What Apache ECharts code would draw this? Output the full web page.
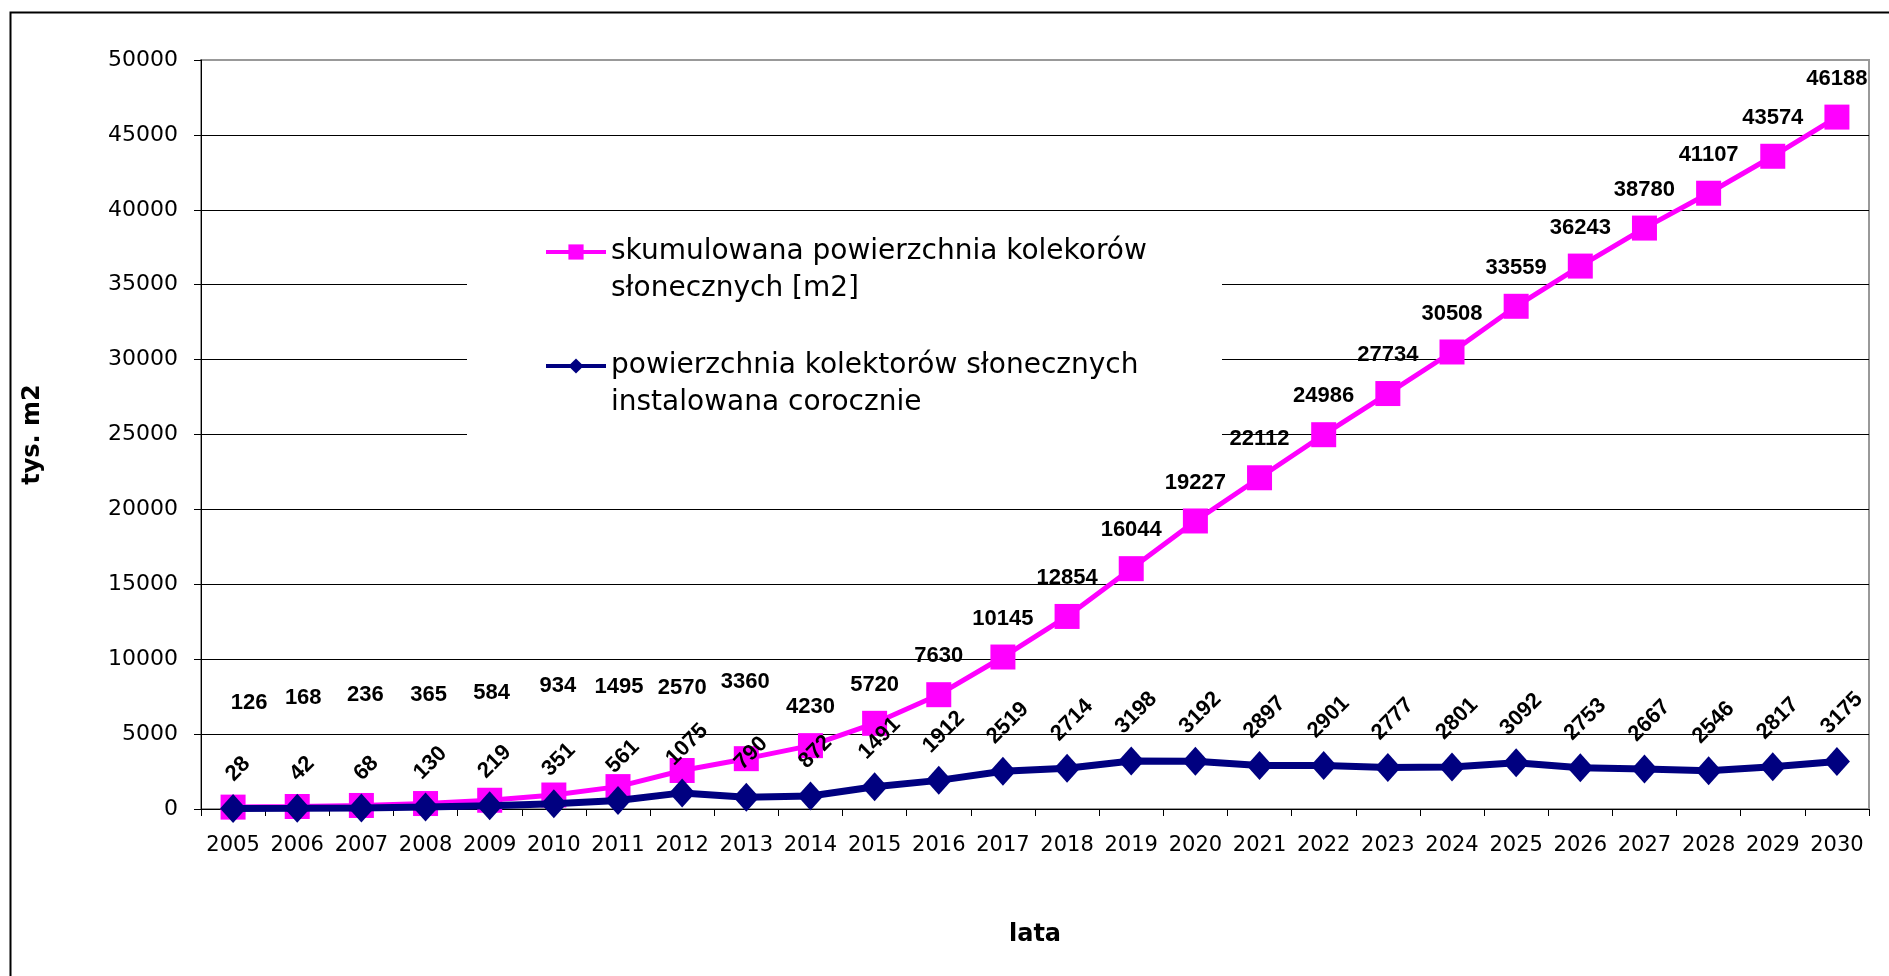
<!DOCTYPE html>
<html>
<head>
<meta charset="utf-8">
<script src="https://cdn.jsdelivr.net/npm/echarts@6/dist/echarts.min.js"></script>
<style>
html,body{margin:0;padding:0;background:#fff;}
#chart{width:1889px;height:976px;}
</style>
</head>
<body>
<div id="chart"></div>
<script>
// ---- data ----
const years = ['2005','2006','2007','2008','2009','2010','2011','2012','2013','2014','2015','2016','2017',
  '2018','2019','2020','2021','2022','2023','2024','2025','2026','2027','2028','2029','2030'];
const cumulativeArea = [126, 168, 236, 365, 584, 934, 1495, 2570, 3360, 4230, 5720, 7630, 10145,
  12854, 16044, 19227, 22112, 24986, 27734, 30508, 33559, 36243, 38780, 41107, 43574, 46188];
const annualArea = [28, 42, 68, 130, 219, 351, 561, 1075, 790, 872, 1491, 1912, 2519,
  2714, 3198, 3192, 2897, 2901, 2777, 2801, 3092, 2753, 2667, 2546, 2817, 3175];
const seriesNames = ['skumulowana powierzchnia kolekorów\nsłonecznych [m2]',
  'powierzchnia kolektorów słonecznych\ninstalowana corocznie'];
const yAxisTitle = 'tys. m2';
const xAxisTitle = 'lata';
const yMin = 0, yMax = 50000, yStep = 5000;

// ---- styles ----
const PINK = '#FF00FF', NAVY = '#000080';
const labelFont = {fontFamily: 'Liberation Sans, Arial, sans-serif', fontWeight: 'bold', fontSize: 22, color: '#000'};
// manual label placements for early cumulative values (style only): [dx, distance]
const pinkLabelPlacement = {0:[16,92], 1:[6,96], 2:[4,98], 3:[3,96], 4:[2,95], 5:[4,97], 6:[1,87], 7:[0,70], 8:[-1,64]};

const pinkData = cumulativeArea.map((v, i) => {
  const p = pinkLabelPlacement[i];
  return p ? {value: v, label: {distance: p[1], offset: [p[0], 0]}} : {value: v};
});
const navyData = annualArea.map(v => {
  const w = String(v).length * 12.2;
  return {value: v, label: {distance: 16.5 + 0.354 * w}};
});

const chart = echarts.init(document.getElementById('chart'), null, {renderer: 'canvas'});
chart.setOption({
  animation: false,
  backgroundColor: '#fff',
  graphic: [
    {type: 'rect', left: 8, top: 10, z: -10, shape: {x: 0, y: 0, width: 2000, height: 2000},
      style: {fill: 'none', stroke: '#000', lineWidth: 2}},
    {type: 'rect', x: 467, y: 225, z: 1, shape: {width: 755, height: 215}, style: {fill: '#fff'}}
  ],
  grid: {left: 201, right: 20, top: 60, bottom: 167, show: true, borderColor: '#999', borderWidth: 2, backgroundColor: 'transparent'},
  legend: {
    orient: 'vertical', left: 544, top: 196.5, padding: 0, itemGap: 3,
    itemWidth: 60, itemHeight: 19, selectedMode: false,
    data: seriesNames,
    formatter: name => '\n' + name,
    lineStyle: {width: 4},
    textStyle: {fontFamily: 'DejaVu Sans', fontSize: 28, color: '#000', lineHeight: 37}
  },
  xAxis: {
    type: 'category', data: years, boundaryGap: true,
    name: xAxisTitle, nameLocation: 'middle', nameGap: 114,
    nameTextStyle: {fontFamily: 'DejaVu Sans', fontWeight: 'bold', fontSize: 24, color: '#000'},
    axisLine: {lineStyle: {color: '#000', width: 1}},
    axisTick: {show: true, interval: 0, length: 7, lineStyle: {color: '#000'}},
    axisLabel: {interval: 0, margin: 26, fontFamily: 'DejaVu Sans', fontSize: 21, color: '#000'},
    splitLine: {show: false}
  },
  yAxis: {
    type: 'value', min: yMin, max: yMax, interval: yStep,
    name: yAxisTitle, nameLocation: 'middle', nameGap: 156, nameRotate: 90,
    nameTextStyle: {fontFamily: 'DejaVu Sans', fontWeight: 'bold', fontSize: 24, color: '#000'},
    axisLine: {show: true, lineStyle: {color: '#000', width: 1}},
    axisTick: {show: true, length: 7, lineStyle: {color: '#000'}},
    axisLabel: {margin: 23, fontFamily: 'DejaVu Sans', fontSize: 22, color: '#000', formatter: v => String(v)},
    splitLine: {show: true, showMaxLine: false, lineStyle: {color: '#000', width: 1}}
  },
  series: [
    {
      name: seriesNames[0], type: 'line', data: pinkData,
      symbol: 'rect', symbolSize: 25, z: 2,
      lineStyle: {color: PINK, width: 5},
      itemStyle: {color: PINK, borderWidth: 0},
      label: Object.assign({show: true, position: 'top', distance: 26, align: 'center', verticalAlign: 'middle'}, labelFont),
      emphasis: {disabled: true}
    },
    {
      name: seriesNames[1], type: 'line', data: navyData,
      symbol: 'diamond', symbolSize: [26, 29], z: 3,
      lineStyle: {color: NAVY, width: 7},
      itemStyle: {color: NAVY, borderWidth: 0},
      label: Object.assign({show: true, position: 'top', rotate: 45, offset: [3.5, 3.5], align: 'center', verticalAlign: 'middle'}, labelFont),
      emphasis: {disabled: true}
    }
  ]
});
</script>
</body>
</html>
